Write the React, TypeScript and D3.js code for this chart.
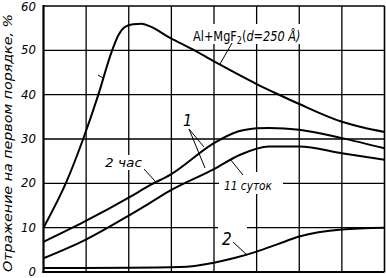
import React from "react";
import * as d3 from "d3";

const W = 386;
const H = 278;

// Y tick labels (percent)
const yTickValues = [0, 10, 20, 30, 40, 50, 60];
const xGridValues = [1, 2, 3, 4, 5, 6, 7];

// Al + MgF2 (d = 250 Å)
const alX = [0, 0.55, 0.93, 1.27, 1.6, 1.75, 1.9, 2.1, 2.3, 2.5, 2.97, 3.5, 4.0, 4.5, 5, 5.5, 6, 7, 7.5, 8];
const alY = [10, 20.6, 30, 39.5, 49.7, 53.3, 55.2, 55.9, 56, 55.4, 52.8, 50.2, 47.5, 44.9, 42.4, 40.1, 37.9, 33.9, 32.6, 31.6];

// curve 1, 2 час
const hrX = [0, 0.97, 2.04, 2.5, 2.97, 3.99, 4.45, 5, 5.3, 6, 7, 8];
const hrY = [6.8, 11.4, 17, 19.6, 21.9, 29, 31.3, 32.4, 32.5, 32.1, 30.2, 27.9];

// curve 1, 11 суток
const dayX = [0, 0.97, 2.03, 2.5, 3, 4, 4.6, 5.3, 6, 7, 8];
const dayY = [3.1, 7.2, 12.9, 15.6, 18.5, 23.2, 26.4, 28.3, 28.3, 26.8, 25.3];

// curve 2
const c2X = [0, 2, 3.2, 4, 4.5, 5, 5.5, 6, 7, 8];
const c2Y = [0.9, 0.95, 1.1, 2.1, 3.2, 4.6, 6.3, 8.0, 9.6, 10.0];

const FONT = "'Liberation Sans Narrow', 'DejaVu Sans Condensed', 'Liberation Sans', Arial, sans-serif";

const xScale = d3.scaleLinear().domain([0, 8]).range([43.5, 384.5]);
const yScale = d3.scaleLinear().domain([0, 60]).range([272, 6]);

const lineGen = d3
  .line<[number, number]>()
  .x((d) => xScale(d[0]))
  .y((d) => yScale(d[1]))
  .curve(d3.curveMonotoneX);

function zip(xs: number[], ys: number[]): [number, number][] {
  return xs.map((x, i) => [x, ys[i]]);
}

export default function App() {
  const series = [zip(alX, alY), zip(hrX, hrY), zip(dayX, dayY), zip(c2X, c2Y)];
  const [x0, x1] = xScale.range();
  const [y0, y1] = yScale.range();
  return (
    <svg
      width={W}
      height={H}
      viewBox={`0 0 ${W} ${H}`}
      style={{ position: "absolute", left: 0, top: 0, background: "#fff", display: "block" }}
    >
      <rect x={0} y={0} width={W} height={H} fill="#fff" />
      {/* grid */}
      {xGridValues.map((v) => (
        <line key={"gx" + v} x1={xScale(v)} x2={xScale(v)} y1={y1} y2={y0} stroke="#000" strokeWidth={1.3} />
      ))}
      {yTickValues.slice(1, -1).map((v) => (
        <line key={"gy" + v} x1={x0} x2={x1} y1={yScale(v)} y2={yScale(v)} stroke="#000" strokeWidth={1.3} />
      ))}
      {/* frame */}
      <line x1={x0} x2={x1} y1={y1} y2={y1} stroke="#000" strokeWidth={1.6} />
      <line x1={x1} x2={x1} y1={y1} y2={y0} stroke="#000" strokeWidth={1.6} />
      <line x1={x0} x2={x0} y1={y1 - 1} y2={y0 + 1} stroke="#000" strokeWidth={2.2} />
      <line x1={x0 - 1} x2={x1} y1={y0} y2={y0} stroke="#000" strokeWidth={2.2} />

      {/* label masks */}
      <rect x={191} y={24} width={117} height={20} fill="#fff" />
      <rect x={103} y={155} width={41} height={15} fill="#fff" />
      <rect x={219} y={172} width={64} height={22} fill="#fff" />
      <rect x={218} y={226} width={29} height={22} fill="#fff" />

      {/* curves */}
      {series.map((s, i) => (
        <path key={"s" + i} d={lineGen(s) || ""} fill="none" stroke="#000" strokeWidth={2} strokeLinejoin="round" />
      ))}

      {/* leaders */}
      <g stroke="#000" strokeWidth={1}>
        <line x1={232} y1={43} x2={220} y2={64} />
        <line x1={98} y1={75} x2={104} y2={78.5} />
        <line x1={189} y1={129} x2={204} y2={147} />
        <line x1={189} y1={129} x2={205} y2={168} />
        <line x1={144} y1={169} x2={155} y2={181} />
        <line x1={230} y1={159} x2={243} y2={175} />
        <line x1={233} y1={242} x2={247} y2={255} />
      </g>

      {/* y tick labels */}
      {yTickValues.map((v) => (
        <text
          key={"t" + v}
          x={36}
          y={Math.max(yScale(v), 7.5)}
          dy="0.3em"
          textAnchor="end"
          fontFamily={FONT}
          fontStyle="italic"
          fontSize={13}
        >
          {v}
        </text>
      ))}

      {/* y axis title */}
      <text
        transform="translate(11.5,143) rotate(-90)"
        textAnchor="middle"
        fontFamily={FONT}
        fontStyle="italic"
        fontSize={12.5}
        textLength={258}
        lengthAdjust="spacingAndGlyphs"
      >
        Отражение на первом порядке, %
      </text>

      {/* annotations */}
      <g transform="translate(193,41) scale(0.9,1)">
        <text x={0} y={0} fontFamily={FONT} fontSize={14}>
          Al+MgF
          <tspan fontSize={10} dy={3}>2</tspan>
          <tspan dy={-3}>(</tspan>
          <tspan fontStyle="italic">d=250 Å)</tspan>
        </text>
      </g>
      <text x={105} y={167} fontFamily={FONT} fontStyle="italic" fontSize={13} textLength={37} lengthAdjust="spacingAndGlyphs">
        2 час
      </text>
      <text x={183} y={126} fontFamily={FONT} fontStyle="italic" fontSize={16}>
        1
      </text>
      <text x={224} y={190} fontFamily={FONT} fontStyle="italic" fontSize={12.5} textLength={48} lengthAdjust="spacingAndGlyphs">
        11 суток
      </text>
      <text x={222} y={245} fontFamily={FONT} fontStyle="italic" fontSize={17}>
        2
      </text>
    </svg>
  );
}
